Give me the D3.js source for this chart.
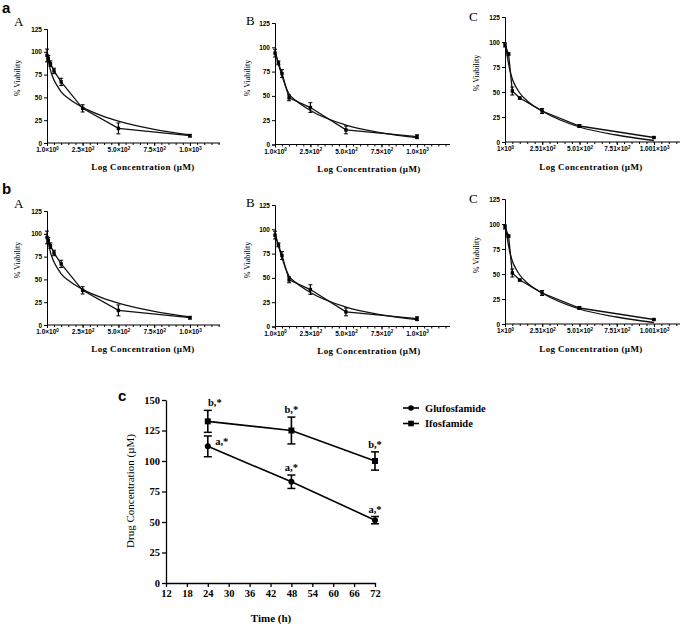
<!DOCTYPE html>
<html>
<head>
<meta charset="utf-8">
<script src="https://cdn.jsdelivr.net/npm/d3@7"></script>
<style>
  body { margin: 0; background: #fff; }
  svg { display: block; }
</style>
</head>
<body>
<div id="chart"></div>
<script>
// ---- small panels: % viability vs concentration ----
const concA = [1, 10, 25, 50, 100, 250, 500, 1000];
const viabA = [96, 93, 87, 79, 67, 38, 16, 8];
const errA = [7, 3, 3, 3, 4, 4, 6, 1.5];
const fitXA = [1, 10, 25, 50, 75, 100, 150, 250, 400, 500, 750, 1000];
const fitYA = [100, 91, 80, 69, 62, 56, 49, 39, 29, 24, 15, 9];

const concB = [1, 25, 50, 100, 250, 500, 1000];
const viabB = [94, 84, 73, 48, 38, 15, 8];
const errB = [4, 2, 4, 3, 5, 4, 2];
const fitXB = [1, 25, 50, 75, 100, 150, 250, 500, 750, 1000];
const fitYB = [97, 83, 71, 60, 52, 45, 35, 20, 12, 7];

const concC = [1, 25, 50, 100, 250, 500, 1000];
const viabC = [97, 88, 51, 44, 31, 16, 4.5];
const errC = [2, 1, 4, 1, 2.5, 1.5, 0.5];
const fitXC = [1, 10, 25, 50, 75, 100, 150, 250, 500, 750, 1000];
const fitYC = [100, 92, 78, 63, 55, 49, 41, 31, 15, 7, 1.5];

const viabTicks = [0, 25, 50, 75, 100, 125];
const concTicksAB = [1, 250, 500, 750, 1000];
const concLabelsAB = ["1.0×10^0", "2.5×10^2", "5.0×10^2", "7.5×10^2", "1.0×10^3"];
const concTicksC = [1, 251, 501, 751, 1001];
const concLabelsC = ["1×10^0", "2.51×10^2", "5.01×10^2", "7.51×10^2", "1.001×10^3"];

// ---- panel c: drug concentration vs time ----
const times = [24, 48, 72];
const glufo = [112, 83, 51.5];
const glufoErr = [8.5, 5.5, 3];
const ifos = [132.5, 125, 100];
const ifosErr = [9, 11, 7.5];
const seriesNames = ["Glufosfamide", "Ifosfamide"];
const timeTicks = [12, 18, 24, 30, 36, 42, 48, 54, 60, 66, 72];
const concTicksTime = [0, 25, 50, 75, 100, 125, 150];

const SERIF = "'Liberation Serif', 'Times New Roman', serif";
const SANS = "'Liberation Sans', Arial, sans-serif";

const svg = d3.select("#chart").append("svg")
    .attr("width", 685)
    .attr("height", 624);

function drawPanel(p, dy) {
    const g = svg.append("g").attr("transform", "translate(0," + dy + ")");
    const x = d3.scaleLinear().domain([1, p.xMax]).range([p.x0, p.x1]);
    const y = d3.scaleLinear().domain([0, 125]).range([p.y0, p.y1]);

    // minor ticks on x
    const minor = d3.range(50, p.xMax, 50);
    g.append("g")
        .attr("transform", "translate(0," + p.y0 + ")")
        .call(d3.axisBottom(x).tickValues(minor).tickSize(2).tickFormat(""))
        .call(a => a.select(".domain").remove());

    const xa = g.append("g")
        .attr("transform", "translate(0," + p.y0 + ")")
        .call(d3.axisBottom(x).tickValues(p.ticks).tickSize(3).tickPadding(2).tickFormat(""));
    xa.select(".domain").attr("d", "M" + p.x0 + ",0H" + p.x1);
    xa.selectAll(".tick").append("text")
        .attr("y", 9)
        .attr("fill", "#000")
        .attr("text-anchor", "middle")
        .style("font-family", SANS)
        .style("font-weight", "bold")
        .style("font-size", "6.5px")
        .each(function (d, i) {
            const parts = p.labels[i].split("^");
            const t = d3.select(this);
            t.append("tspan").text(parts[0]);
            t.append("tspan").attr("dy", -2.5).style("font-size", "4.5px").text(parts[1]);
        });

    const ya = g.append("g")
        .attr("transform", "translate(" + p.x0 + ",0)")
        .call(d3.axisLeft(y).tickValues(viabTicks).tickSize(3).tickPadding(2));
    ya.selectAll("text")
        .style("font-family", SANS)
        .style("font-weight", "bold")
        .style("font-size", "6.5px");
    g.selectAll(".domain, .tick line").attr("stroke", "#000").attr("stroke-width", 1);

    const line = d3.line().x(d => x(d[0])).y(d => y(d[1]));
    const fitLine = d3.line().x(d => x(d[0])).y(d => y(d[1])).curve(d3.curveMonotoneX);

    g.append("path")
        .datum(p.fx.map((v, i) => [v, p.fy[i]]))
        .attr("d", fitLine)
        .attr("fill", "none").attr("stroke", "#111").attr("stroke-width", 1.3);

    const pts = p.cx.map((v, i) => [v, p.vy[i], p.err[i]]);
    g.append("path")
        .datum(pts)
        .attr("d", line)
        .attr("fill", "none").attr("stroke", "#111").attr("stroke-width", 1.3);

    const eb = g.selectAll(".eb").data(pts).enter().append("g");
    eb.append("line")
        .attr("x1", d => x(d[0])).attr("x2", d => x(d[0]))
        .attr("y1", d => y(d[1] - d[2])).attr("y2", d => y(d[1] + d[2]))
        .attr("stroke", "#000").attr("stroke-width", 1.2);
    eb.selectAll(".cap").data(d => [[d[0], d[1] - d[2]], [d[0], d[1] + d[2]]]).enter()
        .append("line")
        .attr("x1", d => x(d[0]) - 2).attr("x2", d => x(d[0]) + 2)
        .attr("y1", d => y(d[1])).attr("y2", d => y(d[1]))
        .attr("stroke", "#000").attr("stroke-width", 1);
    eb.append("rect")
        .attr("x", d => x(d[0]) - 1.7).attr("y", d => y(d[1]) - 1.7)
        .attr("width", 3.4).attr("height", 3.4)
        .attr("fill", "#000");

    g.append("text")
        .attr("x", p.lx).attr("y", p.ly)
        .style("font-family", SERIF).style("font-size", "13px")
        .text(p.name);

    g.append("text")
        .attr("transform", "translate(" + p.ytx + "," + p.yty + ") rotate(-90)")
        .attr("text-anchor", "middle")
        .style("font-family", SERIF).style("font-size", "8px")
        .text("% Viability");

    g.append("text")
        .attr("x", p.xtx).attr("y", p.xty)
        .attr("text-anchor", "middle")
        .style("font-family", SERIF).style("font-weight", "bold").style("font-size", "9px")
        .style("letter-spacing", "0.4px")
        .text("Log Concentration (µM)");
}

const panels = [
    {name: "A", cx: concA, vy: viabA, err: errA, fx: fitXA, fy: fitYA, ticks: concTicksAB, labels: concLabelsAB,
     xMax: 1210, x0: 47, x1: 220, y0: 143, y1: 29, lx: 14, ly: 26, ytx: 20, yty: 78, xtx: 143, xty: 170},
    {name: "B", cx: concB, vy: viabB, err: errB, fx: fitXB, fy: fitYB, ticks: concTicksAB, labels: concLabelsAB,
     xMax: 1232, x0: 275, x1: 450, y0: 144.5, y1: 23, lx: 246, ly: 25, ytx: 250, yty: 78, xtx: 369, xty: 172},
    {name: "C", cx: concC, vy: viabC, err: errC, fx: fitXC, fy: fitYC, ticks: concTicksC, labels: concLabelsC,
     xMax: 1175, x0: 505, x1: 680, y0: 142, y1: 17, lx: 469, ly: 21, ytx: 479, yty: 73, xtx: 591, xty: 170}
];
panels.forEach(p => drawPanel(p, 0));
panels.forEach(p => drawPanel(p, 182));

// row letters
[["a", 2, 13], ["b", 2, 194], ["c", 118, 401]].forEach(l => {
    svg.append("text").attr("x", l[1]).attr("y", l[2])
        .style("font-family", SANS).style("font-weight", "bold").style("font-size", "15px")
        .text(l[0]);
});

// ---- panel c ----
const gc = svg.append("g");
const xt = d3.scaleLinear().domain([12, 72]).range([166, 375]);
const yt = d3.scaleLinear().domain([0, 150]).range([583, 400]);

gc.append("g").attr("transform", "translate(0,583)")
    .call(d3.axisBottom(xt).tickValues(timeTicks).tickSize(4).tickPadding(3).tickSizeOuter(0));
gc.append("g").attr("transform", "translate(166,0)")
    .call(d3.axisLeft(yt).tickValues(concTicksTime).tickSize(4).tickPadding(2).tickSizeOuter(0));
gc.selectAll(".tick text")
    .style("font-family", SERIF).style("font-weight", "bold").style("font-size", "10.5px").attr("fill", "#000");
gc.selectAll(".domain, .tick line").attr("stroke", "#000").attr("stroke-width", 1.3);

const tLine = d3.line().x(d => xt(d[0])).y(d => yt(d[1]));
const series = [
    {name: seriesNames[0], vals: glufo, err: glufoErr, shape: "circle", tag: "a,*", tagDx: [14, 0, 0], tagDy: [9, -4, -4]},
    {name: seriesNames[1], vals: ifos, err: ifosErr, shape: "square", tag: "b,*", tagDx: [7, 0, 0], tagDy: [-4, -4, -4]}
];

series.forEach(s => {
    const pts = times.map((t, i) => [t, s.vals[i], s.err[i]]);
    gc.append("path").datum(pts).attr("d", tLine)
        .attr("fill", "none").attr("stroke", "#000").attr("stroke-width", 1.6);
    const eb = gc.selectAll(null).data(pts).enter().append("g");
    eb.append("line")
        .attr("x1", d => xt(d[0])).attr("x2", d => xt(d[0]))
        .attr("y1", d => yt(d[1] - d[2])).attr("y2", d => yt(d[1] + d[2]))
        .attr("stroke", "#000").attr("stroke-width", 1.6);
    eb.selectAll(null).data(d => [[d[0], d[1] - d[2]], [d[0], d[1] + d[2]]]).enter()
        .append("line")
        .attr("x1", d => xt(d[0]) - 4).attr("x2", d => xt(d[0]) + 4)
        .attr("y1", d => yt(d[1])).attr("y2", d => yt(d[1]))
        .attr("stroke", "#000").attr("stroke-width", 1.5);
    if (s.shape === "circle") {
        eb.append("circle").attr("cx", d => xt(d[0])).attr("cy", d => yt(d[1])).attr("r", 3).attr("fill", "#000");
    } else {
        eb.append("rect").attr("x", d => xt(d[0]) - 3).attr("y", d => yt(d[1]) - 3)
            .attr("width", 6).attr("height", 6).attr("fill", "#000");
    }
    eb.append("text")
        .attr("x", (d, i) => xt(d[0]) + s.tagDx[i])
        .attr("y", (d, i) => yt(d[1] + d[2]) + s.tagDy[i])
        .attr("text-anchor", "middle")
        .style("font-family", SERIF).style("font-weight", "bold").style("font-size", "10.5px")
        .text(s.tag);
});

// legend
series.forEach((s, i) => {
    const ly = 408 + i * 15.5;
    gc.append("line").attr("x1", 403).attr("x2", 419).attr("y1", ly).attr("y2", ly)
        .attr("stroke", "#000").attr("stroke-width", 1.6);
    if (s.shape === "circle") {
        gc.append("circle").attr("cx", 411).attr("cy", ly).attr("r", 2.8).attr("fill", "#000");
    } else {
        gc.append("rect").attr("x", 408.2).attr("y", ly - 2.8).attr("width", 5.6).attr("height", 5.6).attr("fill", "#000");
    }
    gc.append("text").attr("x", 425).attr("y", ly + 3.5)
        .style("font-family", SERIF).style("font-weight", "bold").style("font-size", "10.5px")
        .text(s.name);
});

gc.append("text")
    .attr("transform", "translate(134,491) rotate(-90)")
    .attr("text-anchor", "middle")
    .style("font-family", SERIF).style("font-size", "11px")
    .text("Drug Concentration (µM)");

gc.append("text")
    .attr("x", 271).attr("y", 622)
    .attr("text-anchor", "middle")
    .style("font-family", SERIF).style("font-weight", "bold").style("font-size", "11px")
    .text("Time (h)");
</script>
</body>
</html>
